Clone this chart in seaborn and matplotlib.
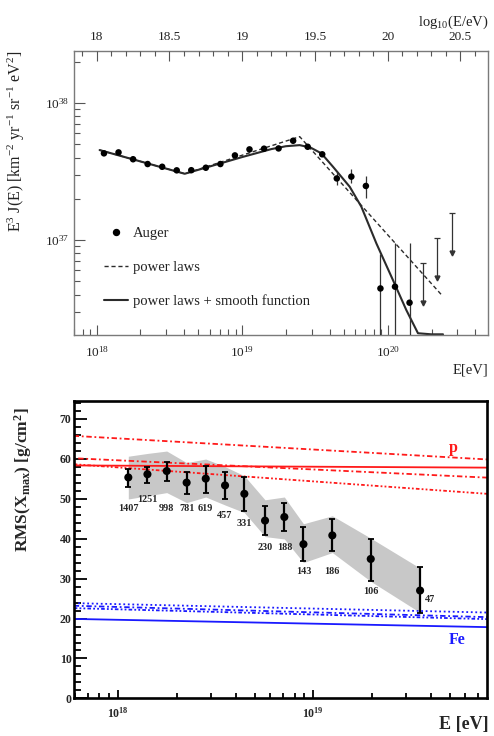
import numpy as np
import matplotlib
matplotlib.use("Agg")
import matplotlib.pyplot as plt
import seaborn as sns
import pandas as pd
from matplotlib.lines import Line2D
from matplotlib.ticker import LogLocator, NullFormatter, MultipleLocator, FixedLocator

sns.set_theme(style="ticks")
plt.rcParams["font.family"] = ["Liberation Serif", "DejaVu Serif"]
plt.rcParams["mathtext.fontset"] = "stix"
plt.rcParams["mathtext.default"] = "regular"

# ---------------- top panel data (log10 values) ----------------
spec_logE = [18.05, 18.15, 18.25, 18.35, 18.45, 18.55, 18.65, 18.75, 18.85, 18.95, 19.05,
             19.15, 19.25, 19.35, 19.45, 19.55, 19.65, 19.75, 19.85, 19.95, 20.05, 20.15]
spec_logJ = [37.633, 37.640, 37.590, 37.555, 37.535, 37.509, 37.510, 37.528, 37.555, 37.618, 37.662,
             37.667, 37.669, 37.725, 37.681, 37.626, 37.450, 37.463, 37.395, 36.647, 36.660, 36.543]
spec_err_up = [0.01, 0.01, 0.01, 0.01, 0.01, 0.01, 0.01, 0.01, 0.01, 0.01, 0.01,
               0.01, 0.01, 0.01, 0.01, 0.01, 0.05, 0.055, 0.072, 0.249, 0.32, 0.437]
spec_err_lo = [0.01, 0.01, 0.01, 0.01, 0.01, 0.01, 0.01, 0.01, 0.01, 0.01, 0.01,
               0.01, 0.01, 0.01, 0.01, 0.01, 0.05, 0.05, 0.09, 1.0, 1.0, 1.0]
ul_logE = [20.243, 20.337, 20.442]
ul_top = [36.83, 37.017, 37.195]
ul_arrow = [36.543, 36.72, 36.903]

pl_logE = [18.02, 18.605, 19.395, 20.37]
pl_logJ = [37.657, 37.484, 37.755, 36.60]

sm_logE = [18.02, 18.605, 19.0, 19.2, 19.3, 19.395, 19.47, 19.544, 19.624, 19.739, 19.819,
           19.922, 20.036, 20.128, 20.208, 20.30, 20.38]
sm_logJ = [37.657, 37.484, 37.606, 37.664, 37.685, 37.693, 37.675, 37.633, 37.535, 37.389, 37.243,
           36.976, 36.708, 36.489, 36.320, 36.08, 35.85]

# ---------------- bottom panel data ----------------
rms_logE = [18.051, 18.149, 18.248, 18.35, 18.448, 18.547, 18.646, 18.752, 18.851, 18.949,
            19.097, 19.294, 19.547]
rms = [55.3, 56.1, 56.9, 54.0, 55.0, 53.3, 51.2, 44.5, 45.4, 38.6, 40.8, 34.9, 27.0]
rms_hi = [57.3, 58.0, 59.1, 56.6, 58.2, 56.6, 55.4, 48.2, 49.0, 42.8, 44.9, 39.9, 33.0]
rms_lo = [53.0, 53.9, 54.4, 51.2, 51.5, 49.9, 46.9, 40.9, 41.8, 34.3, 36.8, 29.5, 21.5]
sys_hi = [60.6, 61.3, 61.9, 59.0, 59.9, 58.0, 55.7, 49.7, 50.4, 43.7, 45.7, 40.1, 32.6]
sys_lo = [49.9, 50.7, 51.5, 49.0, 50.4, 48.4, 46.5, 40.5, 39.9, 34.0, 36.5, 29.3, 21.5]
counts = ["1407", "1251", "998", "781", "619", "457", "331", "230", "188", "143", "186", "106", "47"]
count_logE = [18.051, 18.146, 18.248, 18.35, 18.448, 18.547, 18.646, 18.752, 18.851, 18.949,
              19.097, 19.294, 19.598]
count_y = [47.6, 49.7, 47.6, 47.6, 47.6, 45.7, 43.85, 37.85, 37.85, 31.75, 31.75, 26.75, 24.85]

model_logE = [17.771, 19.89]
p_solid = [58.3, 57.75]
p_m1 = [65.7, 59.8]
p_m2 = [60.1, 55.25]
p_m3 = [58.6, 51.2]
fe_solid = [19.9, 17.85]
fe_m1 = [23.85, 21.5]
fe_m2 = [23.2, 20.35]
fe_m3 = [22.6, 19.85]

# ---------------- figure ----------------
fig = plt.figure(figsize=(4.94, 7.36), dpi=100)
ax1 = fig.add_axes([0.1492, 0.5448, 0.838, 0.3859])
ax2 = fig.add_axes([0.1492, 0.0510, 0.8366, 0.4046])

curve_col = "#2b2b2b"
ax1.set_xscale("log")
ax1.set_yscale("log")
xmin1, xmax1 = 10 ** 17.842, 10 ** 20.687
ymin1, ymax1 = 10 ** 36.307, 10 ** 38.38
ax1.set_xlim(xmin1, xmax1)
ax1.set_ylim(ymin1, ymax1)

E = 10 ** np.array(spec_logE)
lj = np.array(spec_logJ)
J = 10 ** lj
yerr = np.vstack([J - 10 ** (lj - np.array(spec_err_lo)), 10 ** (lj + np.array(spec_err_up)) - J])
ax1.errorbar(E, J, yerr=yerr, fmt="none", ecolor="#333333", elinewidth=0.9, capsize=0, zorder=3)
sns.scatterplot(data=pd.DataFrame({"E": E, "J": J}), x="E", y="J", ax=ax1, color="black",
                s=22, edgecolor="none", zorder=4, legend=False)

ulE = 10 ** np.array(ul_logE)
ax1.vlines(ulE, 10 ** np.array(ul_arrow), 10 ** np.array(ul_top), color="#333333", lw=0.9)
ax1.plot(ulE, 10 ** np.array(ul_top), ls="none", marker="_", ms=5, mew=0.9, color="#333333")
ax1.plot(ulE, 10 ** np.array(ul_arrow), ls="none", marker="v", ms=3.5, color="#333333")

sns.lineplot(x=10 ** np.array(pl_logE), y=10 ** np.array(pl_logJ), ax=ax1, color=curve_col,
             lw=1.0, linestyle=(0, (3, 2)), sort=False, estimator=None, zorder=2)
sm_y = np.maximum(10 ** np.array(sm_logJ), ymin1 * 1.012)
sns.lineplot(x=10 ** np.array(sm_logE), y=sm_y, ax=ax1, color=curve_col,
             lw=1.5, sort=False, estimator=None, zorder=2)

for sp in ax1.spines.values():
    sp.set_color("#7a7a7a")
    sp.set_linewidth(1.0)
ax1.set_xticks([1e18, 1e19, 1e20], labels=["$10^{18}$", "$10^{19}$", "$10^{20}$"], fontsize=9.5)
ax1.xaxis.set_minor_locator(LogLocator(base=10, subs=np.arange(2, 10)))
ax1.xaxis.set_minor_formatter(NullFormatter())
ax1.set_yticks([1e37, 1e38], labels=["$10^{37}$", "$10^{38}$"], fontsize=9.5)
ax1.yaxis.set_minor_locator(LogLocator(base=10, subs=np.arange(2, 10)))
ax1.yaxis.set_minor_formatter(NullFormatter())
ax1.tick_params(axis="both", which="both", direction="in", color="#555555", width=0.8,
                top=False, right=False, labelcolor="#222222")
ax1.tick_params(axis="x", which="major", length=7, pad=7)
ax1.tick_params(axis="x", which="minor", length=4)
ax1.tick_params(axis="y", which="major", length=8, pad=3)
ax1.tick_params(axis="y", which="minor", length=4.5)
ax1.set_xlabel("")
ax1.set_ylabel("E$^{3}$ J(E) [km$^{-2}$ yr$^{-1}$ sr$^{-1}$ eV$^{2}$]", fontsize=11.5, color="#222222")
ax1.yaxis.set_label_coords(-0.113, 0.683)

ax1t = ax1.twiny()
ax1t.set_xscale("linear")
ax1t.set_xlim(np.log10(xmin1), np.log10(xmax1))
ax1t.xaxis.set_major_locator(MultipleLocator(0.5))
ax1t.xaxis.set_minor_locator(MultipleLocator(0.1))
ax1t.xaxis.set_major_formatter(matplotlib.ticker.FuncFormatter(lambda v, p: f"{v:g}"))
ax1t.tick_params(axis="x", which="both", direction="in", color="#555555", width=0.8,
                 labelsize=9.5, labelcolor="#222222")
ax1t.tick_params(axis="x", which="major", length=7, pad=6)
ax1t.tick_params(axis="x", which="minor", length=3.5)
for sp in ax1t.spines.values():
    sp.set_visible(False)

handles = [Line2D([], [], marker="o", ls="none", color="black", ms=4.3),
           Line2D([], [], color=curve_col, lw=1.0, ls=(0, (3, 2))),
           Line2D([], [], color=curve_col, lw=1.5)]
ax1.legend(handles, ["Auger", "power laws", "power laws + smooth function"],
           loc="upper left", bbox_to_anchor=(0.073, 0.382), frameon=False, borderpad=0,
           borderaxespad=0, prop={"family": "Liberation Serif", "size": 10.5},
           labelspacing=1.42, handlelength=1.65, handletextpad=0.34, labelcolor="#222222")

fig.text(0.988, 0.969, "log$_{10}$(E/eV)", ha="right", va="center", fontsize=10.5, color="#222222")
fig.text(0.988, 0.497, "E[eV]", ha="right", va="center", fontsize=10.5, color="#222222")

# ---------------- bottom panel ----------------
ax2.set_xscale("log")
ax2.set_xlim(10 ** model_logE[0], 10 ** model_logE[1])
ax2.set_ylim(0, 74.5)

rE = 10 ** np.array(rms_logE)
ax2.fill_between(rE, sys_lo, sys_hi, color="#c8c8c8", lw=0, zorder=1)

mE = 10 ** np.array(model_logE)
red, blue = "#ff1a1a", "#1a1aff"
styles = [(red, p_solid, "-"), (red, p_m1, (0, (3, 1.5, 1, 1.5))),
          (red, p_m2, (0, (1, 1.5, 3, 1.5))), (red, p_m3, (0, (2, 1.2, 1, 1.2, 1, 1.2))),
          (blue, fe_solid, "-"), (blue, fe_m1, (0, (1, 1.5))),
          (blue, fe_m2, (0, (3, 1.5, 1, 1.5))), (blue, fe_m3, (0, (2, 1.2, 1, 1.2, 1, 1.2)))]
for col, vals, ls in styles:
    sns.lineplot(x=mE, y=vals, ax=ax2, color=col, lw=1.3, linestyle=ls, sort=False,
                 estimator=None, zorder=2)

r = np.array(rms)
ax2.errorbar(rE, r, yerr=[r - np.array(rms_lo), np.array(rms_hi) - r], fmt="none",
             ecolor="black", elinewidth=1.6, capsize=2.3, capthick=1.3, zorder=3)
sns.scatterplot(x=rE, y=r, ax=ax2, color="black", s=34, edgecolor="none", zorder=4, legend=False)

for lab, le, ly in zip(counts, count_logE, count_y):
    ax2.text(10 ** le, ly, lab, ha="center", va="center", fontsize=7.3, fontweight="bold")

ax2.text(10 ** 19.716, 62.6, "p", ha="center", va="center", fontsize=11.5, fontweight="bold", color=red)
ax2.text(10 ** 19.735, 14.7, "Fe", ha="center", va="center", fontsize=11.5, fontweight="bold", color=blue)

for sp in ax2.spines.values():
    sp.set_color("black")
    sp.set_linewidth(1.9)
ax2.set_xticks([1e18, 1e19], labels=["$10^{18}$", "$10^{19}$"], fontsize=8.5, fontweight="bold")
ax2.xaxis.set_minor_locator(LogLocator(base=10, subs=np.arange(2, 10)))
ax2.xaxis.set_minor_formatter(NullFormatter())
ax2.set_yticks(np.arange(0, 80, 10), labels=[str(v) for v in range(0, 80, 10)],
               fontsize=8.5, fontweight="bold")
ax2.yaxis.set_minor_locator(MultipleLocator(2))
ax2.tick_params(axis="both", which="both", direction="in", color="black", width=1.3,
                top=False, right=False)
ax2.tick_params(axis="x", which="major", length=6, pad=5.5)
ax2.tick_params(axis="x", which="minor", length=3.5)
ax2.tick_params(axis="y", which="major", length=9, pad=1.5)
ax2.tick_params(axis="y", which="minor", length=5)
ax2.set_xlabel("")
ax2.set_ylabel("RMS(X$_{max}$) [g/cm$^{2}$]", fontsize=12.5, fontweight="bold")
ax2.yaxis.set_label_coords(-0.096, 0.734)
fig.text(0.99, 0.015, "E [eV]", ha="right", va="center", fontsize=13, fontweight="bold")

fig.savefig("out.png", dpi=100)
